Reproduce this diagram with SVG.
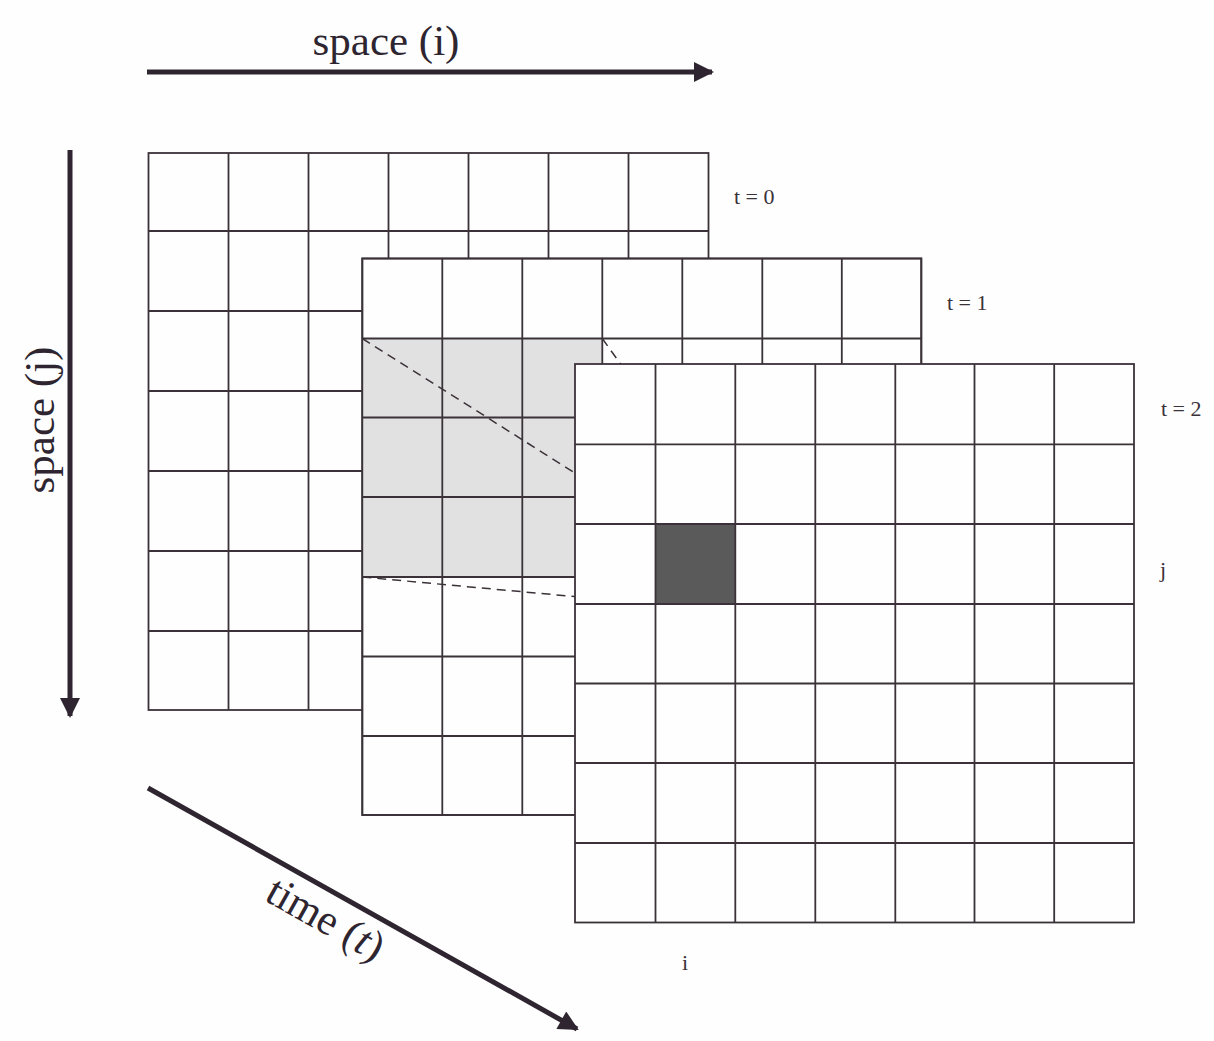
<svg xmlns="http://www.w3.org/2000/svg" width="1214" height="1041" viewBox="0 0 1214 1041">
<style>
.bg{fill:#fdfefd}
.frame{fill:#fdfefd;stroke:#3b3239;stroke-width:1.8}
.ln{stroke:#3b3239;stroke-width:1.8;fill:none}
.dash{stroke:#3b3239;stroke-width:1.5;fill:none;stroke-dasharray:9 6}
.axis{stroke:#2e2530;stroke-width:5;fill:none}
.big{font-family:"Liberation Serif","Times New Roman",serif;font-size:43px;fill:#2e2530}
.sm{font-family:"Liberation Serif","Times New Roman",serif;font-size:22px;fill:#3b3239}
</style>
<defs>
<marker id="ah" viewBox="0 0 10 10" refX="9" refY="5" markerWidth="5" markerHeight="4" orient="auto" markerUnits="strokeWidth">
<path d="M0,0 L10,5 L0,10 z" fill="#2e2530"/>
</marker>
</defs>
<rect class="bg" x="0" y="0" width="1214" height="1041"/>

<g id="connectors">
<line class="axis" x1="147" y1="72" x2="712" y2="72" marker-end="url(#ah)"/>
<line class="axis" x1="70" y1="150" x2="70" y2="716" marker-end="url(#ah)"/>
<line class="axis" x1="148" y1="788" x2="577" y2="1029" marker-end="url(#ah)"/>
</g>

<g id="axis-labels">
<text class="big" x="386" y="55" text-anchor="middle">space (i)</text>
<text class="big" transform="translate(54,420) rotate(-90)" text-anchor="middle">space (j)</text>
<text class="big" transform="translate(319,931) rotate(29.3)" text-anchor="middle">time (<tspan font-style="italic">t</tspan>)</text>
</g>

<g id="grid-t0">
<rect class="frame" x="148.5" y="153" width="560" height="557"/>
<path class="ln" d="M228.5,153V710M308.5,153V710M388.5,153V710M468.5,153V710M548.5,153V710M628.5,153V710M148.5,231H708.5M148.5,311H708.5M148.5,391H708.5M148.5,471H708.5M148.5,551H708.5M148.5,631H708.5"/>
<text class="sm" x="734" y="204">t = 0</text>
</g>

<g id="grid-t1">
<rect class="frame" x="362.3" y="258.5" width="559" height="556.5"/>
<rect x="362.3" y="338.5" width="240" height="238.5" fill="#e1e1e1"/>
<path class="ln" d="M442.3,258.5V815M522.3,258.5V815M602.3,258.5V815M682.3,258.5V815M762.3,258.5V815M841.8,258.5V815M362.3,338.5H921.3M362.3,417.5H921.3M362.3,497H921.3M362.3,577H921.3M362.3,656.5H921.3M362.3,736H921.3"/>
<rect class="ln" x="362.3" y="258.5" width="559" height="556.5"/>
<text class="sm" x="947" y="310">t = 1</text>
</g>

<g id="projection">
<line class="dash" x1="362.3" y1="338.5" x2="655.5" y2="524"/>
<line class="dash" x1="362.3" y1="577" x2="655.5" y2="604"/>
<line class="dash" x1="602.3" y1="338.5" x2="735.3" y2="524"/>
</g>

<g id="grid-t2">
<rect class="frame" x="575" y="364" width="559" height="558.5"/>
<rect x="655.5" y="524" width="79.8" height="80" fill="#5a5a5a"/>
<path class="ln" d="M655.5,364V922.5M735.3,364V922.5M815.3,364V922.5M895.3,364V922.5M974.5,364V922.5M1054.2,364V922.5M575,444.3H1134M575,524H1134M575,604H1134M575,683.5H1134M575,763H1134M575,843H1134"/>
<text class="sm" x="1161" y="416">t = 2</text>
<text class="sm" x="1160" y="577">j</text>
<text class="sm" x="682" y="970">i</text>
</g>
</svg>
